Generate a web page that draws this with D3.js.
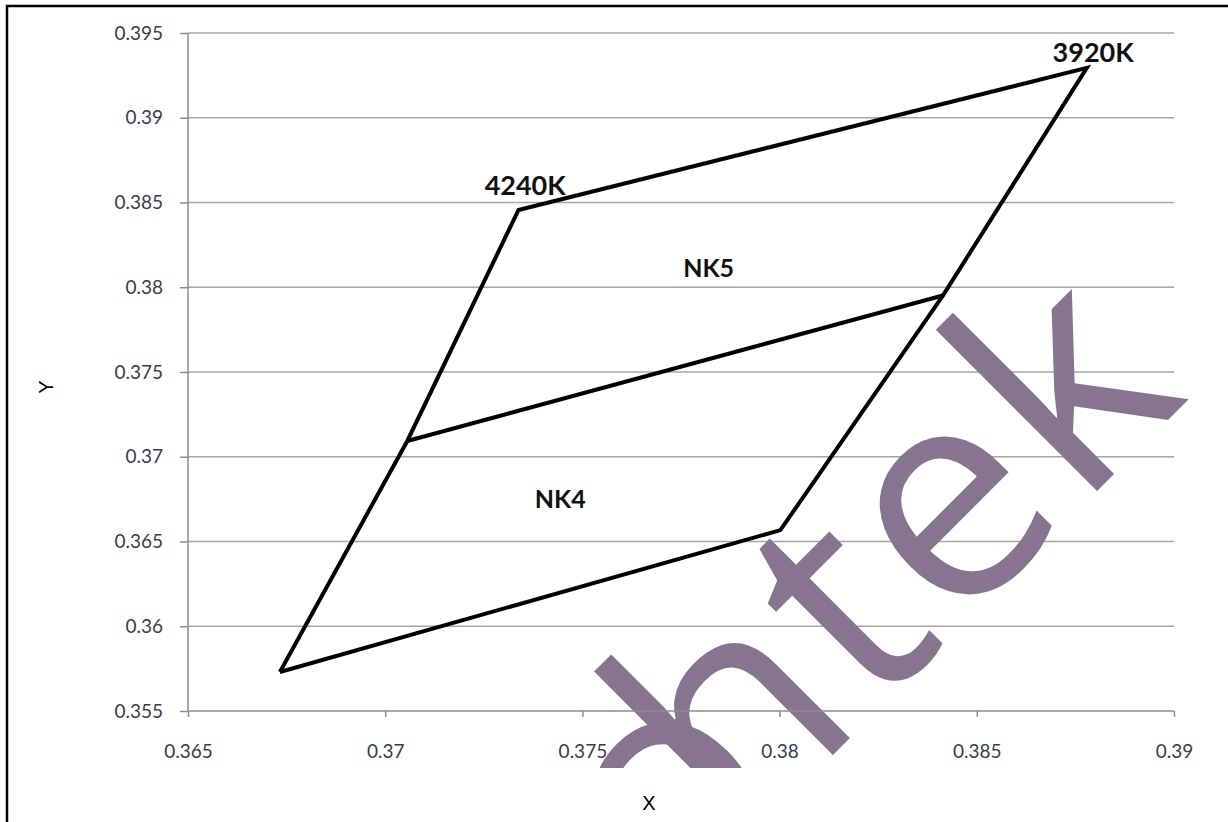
<!DOCTYPE html>
<html>
<head>
<meta charset="utf-8">
<script src="https://cdn.jsdelivr.net/npm/d3@7.9.0/dist/d3.min.js"></script>
<style>
  body { margin: 0; background: #fff; }
  svg { display: block; }
</style>
</head>
<body>
<svg id="chart" width="1228" height="822"></svg>
<script>
// tick values
const xTicks = [0.365, 0.37, 0.375, 0.38, 0.385, 0.39];
const yTicks = [0.355, 0.36, 0.365, 0.37, 0.375, 0.38, 0.385, 0.39, 0.395];

// outer quadrangle (bottom-left -> up left edge -> 4240K -> 3920K -> down right edge -> back)
const boundaryX = [0.36733, 0.37056, 0.37338, 0.38779, 0.38414, 0.38002, 0.36733];
const boundaryY = [0.3573, 0.37093, 0.38456, 0.39294, 0.37951, 0.36567, 0.3573];

// line splitting NK4 / NK5
const dividerX = [0.37056, 0.38414];
const dividerY = [0.37093, 0.37951];

// annotations (data units)
const labelText = ['4240K', '3920K', 'NK5', 'NK4'];
const labelX = [0.37355, 0.38795, 0.3782, 0.37444];
const labelY = [0.38545, 0.39329, 0.38058, 0.36699];
const labelBig = [true, true, false, false];

const svg = d3.select('#chart');

const x = d3.scaleLinear().domain([0.365, 0.39]).range([188, 1174]);
const y = d3.scaleLinear().domain([0.355, 0.395]).range([711, 33]);

// frame (only left/top visible in the crop)
svg.append('rect')
    .attr('x', 7).attr('y', 6)
    .attr('width', 1300).attr('height', 900)
    .attr('fill', 'none')
    .attr('stroke', '#000')
    .attr('stroke-width', 2.5);

// gridlines
svg.append('g')
    .selectAll('line')
    .data(yTicks.slice(1))
    .join('line')
    .attr('x1', x(0.365)).attr('x2', x(0.39))
    .attr('y1', d => y(d)).attr('y2', d => y(d))
    .attr('stroke', '#a6a6a6')
    .attr('stroke-width', 1.5);

// watermark, cut off at the bottom like the source
svg.append('clipPath').attr('id', 'wm-clip')
    .append('rect').attr('x', 0).attr('y', 0).attr('width', 1228).attr('height', 768);

let wm = svg.append('g')
    .attr('clip-path', 'url(#wm-clip)')
    .attr('font-family', '"Open Sans", sans-serif')
    .attr('font-size', 300)
    .attr('fill', '#877590');

wm.append('text')
    .attr('transform', 'translate(1196,392) rotate(-45)')
    .attr('text-anchor', 'end')
    .attr('letter-spacing', 8)
    .text('htek');

wm.append('text')
    .attr('transform', 'translate(732,860) rotate(-45)')
    .attr('text-anchor', 'middle')
    .text('o');

const fmt = d => String(+d.toFixed(3));

// y axis
let yAxis = svg.append('g')
    .attr('transform', `translate(${x(0.365)},0)`)
    .call(d3.axisLeft(y).tickValues(yTicks).tickSize(8).tickPadding(17).tickFormat(fmt));
yAxis.select('.domain').attr('stroke', '#8c8c8c').attr('stroke-width', 1.5).attr('d', `M0,${y(0.355)}V${y(0.395)}`);
yAxis.selectAll('.tick line').attr('stroke', '#8c8c8c').attr('stroke-width', 1.5);

// x axis
let xAxis = svg.append('g')
    .attr('transform', `translate(0,${y(0.355)})`)
    .call(d3.axisBottom(x).tickValues(xTicks).tickSize(6).tickPadding(41).tickFormat(fmt));
xAxis.select('.domain').attr('stroke', '#8c8c8c').attr('stroke-width', 1.5).attr('d', `M${x(0.365)},0H${x(0.39)}`);
xAxis.selectAll('.tick line').attr('stroke', '#8c8c8c').attr('stroke-width', 1.5);

svg.selectAll('.tick text')
    .attr('font-family', 'Lato, "Open Sans", sans-serif')
    .attr('font-size', 19)
    .attr('fill', '#3b3b4f');
xAxis.selectAll('.tick text').attr('dy', '0');

// lines
const line = d3.line().x(d => x(d[0])).y(d => y(d[1]));

svg.append('path')
    .datum(d3.zip(boundaryX, boundaryY))
    .attr('d', line)
    .attr('fill', 'none')
    .attr('stroke', '#000')
    .attr('stroke-width', 4)
    .attr('stroke-linejoin', 'miter');

svg.append('path')
    .datum(d3.zip(dividerX, dividerY))
    .attr('d', line)
    .attr('fill', 'none')
    .attr('stroke', '#000')
    .attr('stroke-width', 4);

// labels
svg.append('g')
    .selectAll('text')
    .data(labelText)
    .join('text')
    .attr('x', (d, i) => x(labelX[i]))
    .attr('y', (d, i) => y(labelY[i]))
    .attr('text-anchor', 'middle')
    .attr('font-family', 'Lato, "Open Sans", sans-serif')
    .attr('font-weight', 'bold')
    .attr('font-size', (d, i) => labelBig[i] ? 27 : 25)
    .attr('fill', '#111')
    .text(d => d);

// axis titles
svg.append('text')
    .attr('x', 649).attr('y', 810)
    .attr('text-anchor', 'middle')
    .attr('font-family', '"Liberation Sans", Arial, sans-serif')
    .attr('font-size', 20)
    .text('X');

svg.append('text')
    .attr('transform', 'translate(53,387) rotate(-90)')
    .attr('text-anchor', 'middle')
    .attr('font-family', '"Liberation Sans", Arial, sans-serif')
    .attr('font-size', 20)
    .text('Y');
</script>
</body>
</html>
